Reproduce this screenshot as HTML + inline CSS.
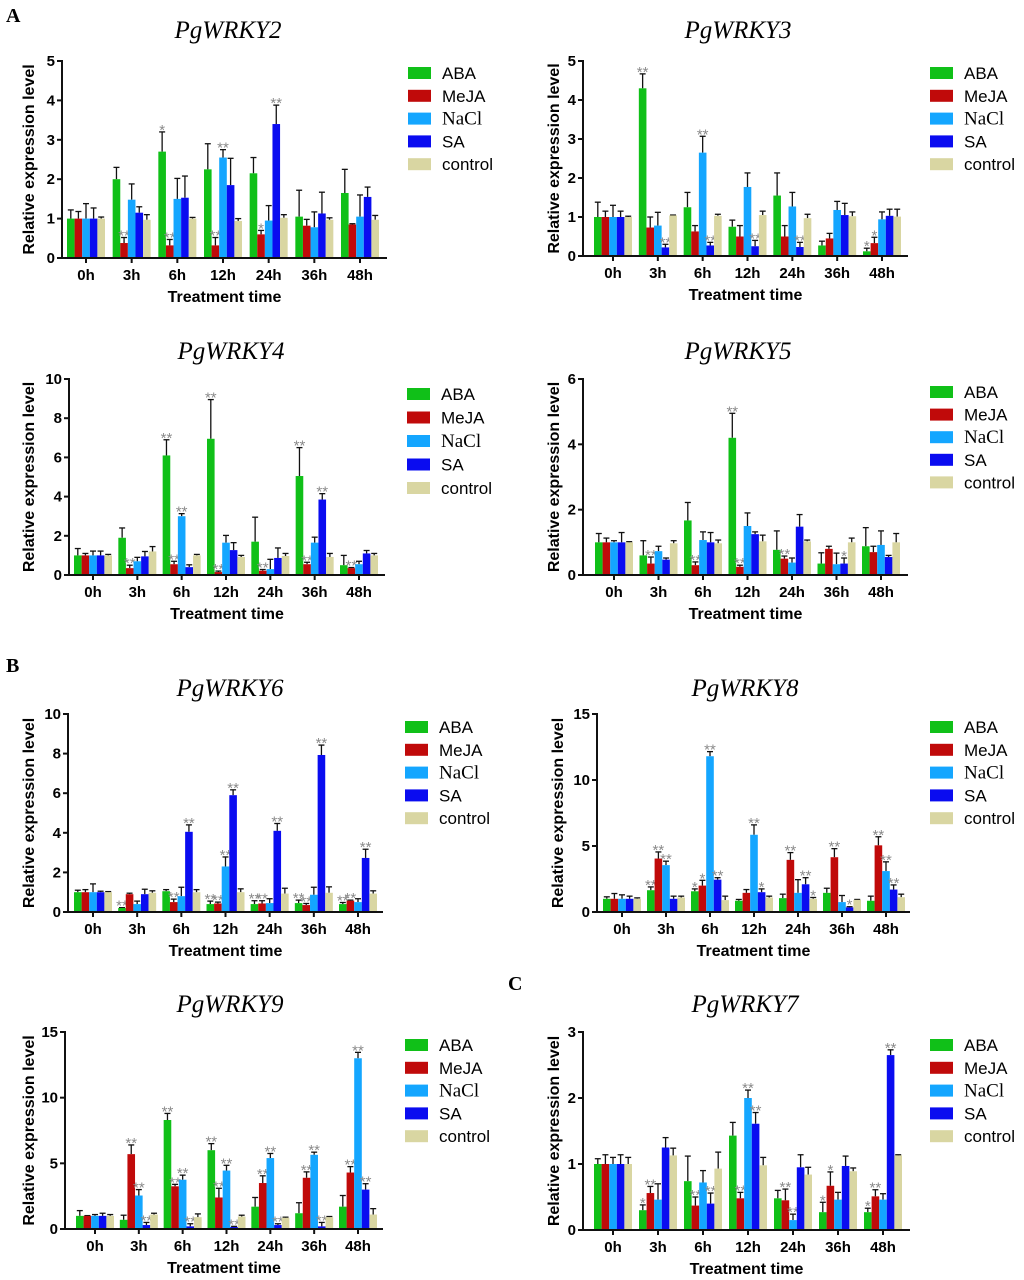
<!DOCTYPE html>
<html><head><meta charset="utf-8">
<style>
body{margin:0;background:#fff;}
svg{display:block;}
</style></head>
<body>
<svg id="fig" width="1024" height="1280" viewBox="0 0 1024 1280" xmlns="http://www.w3.org/2000/svg" style="font-family:'Liberation Sans',Arial,sans-serif">
<rect width="1024" height="1280" fill="#fff"/>
<text x="6" y="22" style="font-family:'Liberation Serif',serif" font-weight="bold" font-size="20">A</text>
<text x="6" y="672" style="font-family:'Liberation Serif',serif" font-weight="bold" font-size="20">B</text>
<text x="508" y="990" style="font-family:'Liberation Serif',serif" font-weight="bold" font-size="20">C</text>
</svg>
<script>
const categories = ["0h","3h","6h","12h","24h","36h","48h"];
const seriesNames = ["ABA","MeJA","NaCl","SA","control"];
const seriesColors = ["#10c018","#c00a0a","#14a6ff","#0a0cf0","#d9d6a2"];

const w2Ticks = [0,1,2,3,4,5];
const w2Values = [[1.0,2.0,2.7,2.25,2.15,1.05,1.65],[1.0,0.38,0.32,0.32,0.6,0.82,0.85],[1.0,1.48,1.5,2.55,0.95,0.78,1.05],[1.0,1.15,1.53,1.85,3.4,1.13,1.55],[1.0,0.97,1.0,0.94,1.02,0.97,0.97]];
const w2Tops = [[1.22,2.3,3.2,2.9,2.55,1.72,2.25],[1.18,0.52,0.47,0.52,0.7,0.98,0.87],[1.38,1.88,2.02,2.75,1.33,1.17,1.6],[1.27,1.3,2.08,2.53,3.88,1.67,1.8],[1.04,1.1,1.03,1.0,1.1,1.02,1.08]];
const w2Sig = [["","","*","","","",""],["","**","**","**","*","",""],["","","","**","","",""],["","","","","**","",""],["","","","","","",""]];

const w3Ticks = [0,1,2,3,4,5];
const w3Values = [[1.0,4.3,1.25,0.75,1.55,0.27,0.12],[1.0,0.73,0.63,0.5,0.5,0.45,0.33],[1.0,0.78,2.65,1.77,1.27,1.18,0.94],[1.0,0.22,0.27,0.25,0.23,1.05,1.03],[1.0,1.04,1.03,1.05,0.97,1.02,1.01]];
const w3Tops = [[1.38,4.67,1.63,0.92,2.13,0.38,0.2],[1.15,1.0,0.78,0.78,0.78,0.58,0.48],[1.3,1.12,3.07,2.13,1.63,1.4,1.13],[1.15,0.3,0.35,0.4,0.35,1.35,1.2],[1.02,1.05,1.07,1.15,1.07,1.13,1.2]];
const w3Sig = [["","**","","","","","*"],["","","","","","","*"],["","","**","","","",""],["","**","**","**","**","",""],["","","","","","",""]];

const w4Ticks = [0,2,4,6,8,10];
const w4Values = [[1.0,1.9,6.1,6.95,1.7,5.05,0.5],[1.0,0.35,0.55,0.15,0.22,0.55,0.35],[1.0,0.7,3.0,1.65,0.3,1.65,0.55],[1.0,0.95,0.4,1.27,0.87,3.85,1.1],[1.0,1.2,1.0,0.92,0.97,0.92,1.0]];
const w4Tops = [[1.35,2.4,6.9,8.95,2.95,6.5,1.0],[1.1,0.5,0.7,0.2,0.28,0.65,0.38],[1.22,0.9,3.13,2.02,0.8,1.93,0.7],[1.22,1.2,0.52,1.65,1.38,4.15,1.25],[1.05,1.45,1.05,1.0,1.1,1.1,1.1]];
const w4Sig = [["","","**","**","","**",""],["","**","**","**","**","**","**"],["","","**","","","",""],["","","","","","**",""],["","","","","","",""]];

const w5Ticks = [0,2,4,6];
const w5Values = [[1.0,0.6,1.67,4.2,0.77,0.35,0.88],[1.0,0.35,0.3,0.25,0.5,0.8,0.7],[1.0,0.73,1.07,1.5,0.38,0.33,0.92],[1.0,0.47,1.0,1.25,1.48,0.35,0.55],[1.0,0.97,0.97,1.03,1.03,1.0,1.0]];
const w5Tops = [[1.27,1.05,2.22,4.95,1.35,0.68,1.45],[1.13,0.55,0.4,0.3,0.58,0.88,0.88],[1.05,0.88,1.32,1.9,0.52,0.67,1.35],[1.3,0.52,1.3,1.32,1.85,0.52,0.6],[1.02,1.05,1.07,1.22,1.07,1.13,1.27]];
const w5Sig = [["","","","**","","",""],["","**","**","**","**","",""],["","","","","","",""],["","","","","","*",""],["","","","","","",""]];

const w6Ticks = [0,2,4,6,8,10];
const w6Values = [[1.0,0.2,1.05,0.4,0.4,0.45,0.4],[1.0,0.9,0.5,0.43,0.43,0.35,0.57],[1.0,0.4,0.8,2.3,0.45,0.87,0.5],[1.0,0.9,4.05,5.9,4.1,7.93,2.73],[1.0,0.97,1.0,1.0,0.93,0.97,0.93]];
const w6Tops = [[1.1,0.22,1.13,0.55,0.57,0.6,0.48],[1.13,0.95,0.65,0.5,0.57,0.43,0.6],[1.42,0.55,1.25,2.78,0.67,1.25,0.67],[1.05,1.15,4.4,6.17,4.47,8.43,3.17],[1.03,1.07,1.13,1.17,1.2,1.27,1.07]];
const w6Sig = [["","**","","**","**","**","**"],["","","**","**","**","**","**"],["","","","**","","",""],["","","**","**","**","**","**"],["","","","","","",""]];

const w8Ticks = [0,5,10,15];
const w8Values = [[1.0,1.65,1.57,0.85,1.05,1.45,0.85],[1.0,4.05,2.0,1.45,3.95,4.15,5.05],[1.0,3.55,11.8,5.85,1.45,0.75,3.1],[1.0,1.0,2.45,1.5,2.1,0.35,1.7],[1.0,1.1,0.9,1.1,1.0,0.92,1.12]];
const w8Tops = [[1.15,1.9,1.75,0.95,1.35,1.8,1.2],[1.4,4.55,2.4,1.7,4.5,4.8,5.7],[1.3,3.85,12.15,6.6,2.45,1.25,3.8],[1.2,1.2,2.6,1.75,2.6,0.4,2.05],[1.07,1.2,1.2,1.2,1.1,0.95,1.35]];
const w8Sig = [["","**","*","","","",""],["","**","*","","**","**","**"],["","**","**","**","","","**"],["","","**","*","**","*","**"],["","","","","*","",""]];

const w9Ticks = [0,5,10,15];
const w9Values = [[1.0,0.7,8.3,6.0,1.7,1.2,1.7],[1.0,5.7,3.25,2.4,3.5,3.9,4.3],[1.0,2.55,3.75,4.45,5.4,5.65,13.0],[1.0,0.3,0.2,0.15,0.3,0.2,3.0],[1.0,1.1,0.9,0.95,0.85,0.9,1.1]];
const w9Tops = [[1.4,1.05,8.8,6.5,2.4,2.0,2.55],[1.02,6.4,3.4,3.1,4.05,4.35,4.75],[1.1,3.0,4.1,4.85,5.75,5.85,13.45],[1.2,0.5,0.4,0.2,0.4,0.5,3.45],[1.1,1.2,1.15,1.05,0.9,0.95,1.55]];
const w9Sig = [["","","**","**","","",""],["","**","**","**","**","**","**"],["","**","**","**","**","**","**"],["","**","**","**","**","**","**"],["","","","","","",""]];

const w7Ticks = [0,1,2,3];
const w7Values = [[1.0,0.3,0.74,1.43,0.48,0.27,0.27],[1.0,0.56,0.37,0.48,0.45,0.67,0.51],[1.0,0.46,0.72,2.0,0.15,0.46,0.46],[1.0,1.25,0.4,1.61,0.95,0.97,2.65],[1.0,1.13,0.93,0.98,0.84,0.89,1.13]];
const w7Tops = [[1.08,0.38,1.12,1.63,0.6,0.42,0.33],[1.14,0.66,0.5,0.57,0.62,0.88,0.61],[1.1,0.7,0.9,2.12,0.24,0.57,0.55],[1.14,1.4,0.56,1.78,1.14,1.12,2.73],[1.1,1.24,1.18,1.1,0.95,0.94,1.14]];
const w7Sig = [["","*","","","","*","*"],["","**","**","**","**","*","**"],["","","","**","**","",""],["","","**","**","","","**"],["","","","","","",""]];

const NS="http://www.w3.org/2000/svg";
const svg=document.getElementById('fig');
function el(tag,attrs,parent,txt){const e=document.createElementNS(NS,tag);for(const k in attrs)e.setAttribute(k,attrs[k]);if(txt!==undefined)e.textContent=txt;(parent||svg).appendChild(e);return e;}
const SERIF="font-family:'Liberation Serif',serif";
const SANS="font-family:'Liberation Sans',Arial,sans-serif";

function drawPanel(p,values,tops,sigs,ticks){
  const g=el('g',{});
  
  
  const max=ticks[ticks.length-1];
  const yS=v=>p.y0-(p.y0-p.yTop)*v/max;
  const step=(p.cLast-p.c0)/(categories.length-1);
  const xS=i=>p.c0+i*step;
  const bw=7.6;
  const t=el('text',{x:p.tx,y:p.ty,'text-anchor':'middle',style:SERIF+';font-style:italic','font-size':'25'},g,p.title);
  
  
  for(let s=0;s<seriesNames.length;s++){
    for(let i=0;i<categories.length;i++){
      const x=xS(i)-2.5*bw+s*bw;
      const v=values[s][i], top=tops[s][i];
      const cx=x+bw/2;
      const eb=el('line',{x1:cx,x2:cx,y1:yS(v),y2:yS(top),stroke:'#111','stroke-width':1.3},g);
      
      
      const cap=el('line',{x1:cx-3,x2:cx+3,y1:yS(top),y2:yS(top),stroke:'#111','stroke-width':1.3},g);
      
      
      const r=el('rect',{x:x,y:yS(v),width:bw,height:p.y0-yS(v),fill:seriesColors[s]},g);
      
      
      if(sigs[s][i]){
        const st=el('text',{x:cx,y:yS(Math.max(top,v))+3,'text-anchor':'middle','font-size':'15',fill:'#8a8a8a'},g,sigs[s][i]);
        
        
      }
    }
  }
  const ya=el('line',{x1:p.ax,x2:p.ax,y1:p.yTop-1,y2:p.y0+1,stroke:'#111','stroke-width':2},g);
  
  
  const xa=el('line',{x1:p.ax-1,x2:p.xEnd,y1:p.y0,y2:p.y0,stroke:'#111','stroke-width':2},g);
  
  
  ticks.forEach(tv=>{
    const y=yS(tv);
    el('line',{x1:p.ax-5,x2:p.ax,y1:y,y2:y,stroke:'#111','stroke-width':2},g);
    const tl=el('text',{x:p.ax-7,y:y+5,'text-anchor':'end','font-weight':'bold','font-size':'15'},g,String(tv));
    
    
  });
  categories.forEach((c,i)=>{
    const x=xS(i);
    el('line',{x1:x,x2:x,y1:p.y0,y2:p.y0+5,stroke:'#111','stroke-width':2},g);
    const tl=el('text',{x:x,y:p.y0+22,'text-anchor':'middle','font-weight':'bold','font-size':'15'},g,c);
    
    
  });
  const xt=el('text',{x:(p.ax+p.xEnd)/2,y:p.y0+44,'text-anchor':'middle','font-weight':'bold','font-size':'16'},g,'Treatment time');
  
  
  const ym=(p.y0+p.yTop)/2;
  const yt=el('text',{x:p.yx,y:ym,'text-anchor':'middle','font-weight':'bold','font-size':'16',transform:'rotate(-90 '+p.yx+' '+ym+')'},g,'Relative expression level');
  
  
  seriesNames.forEach((n,s)=>{
    const y=p.ly+s*p.lstep;
    const lg=el('g',{},g);
    
    
    el('rect',{x:p.lx,y:y-6,width:23,height:12,fill:seriesColors[s]},lg);
    const serif=n==='NaCl';
    el('text',{x:p.lx+34,y:y+6,'font-size':serif?'19':'17',style:serif?SERIF:SANS},lg,n);
  });
}

drawPanel({id:'pgwrky2',title:'PgWRKY2',tx:228,ty:38,ax:62,y0:258,yTop:61,xEnd:387,c0:86,cLast:360,yx:34,lx:408,ly:73,lstep:22.8},w2Values,w2Tops,w2Sig,w2Ticks);
drawPanel({id:'pgwrky3',title:'PgWRKY3',tx:738,ty:38,ax:583,y0:256,yTop:61,xEnd:908,c0:613,cLast:882,yx:559,lx:930,ly:73,lstep:22.8},w3Values,w3Tops,w3Sig,w3Ticks);
drawPanel({id:'pgwrky4',title:'PgWRKY4',tx:231,ty:359,ax:69,y0:575,yTop:379,xEnd:385,c0:93,cLast:359,yx:34,lx:407,ly:394,lstep:23.5},w4Values,w4Tops,w4Sig,w4Ticks);
drawPanel({id:'pgwrky5',title:'PgWRKY5',tx:738,ty:359,ax:583,y0:575,yTop:379,xEnd:908,c0:614,cLast:881,yx:559,lx:930,ly:392,lstep:22.6},w5Values,w5Tops,w5Sig,w5Ticks);
drawPanel({id:'pgwrky6',title:'PgWRKY6',tx:230,ty:696,ax:68,y0:912,yTop:714,xEnd:383,c0:93,cLast:358,yx:34,lx:405,ly:727,lstep:22.8},w6Values,w6Tops,w6Sig,w6Ticks);
drawPanel({id:'pgwrky8',title:'PgWRKY8',tx:745,ty:696,ax:597,y0:912,yTop:714,xEnd:910,c0:622,cLast:886,yx:563,lx:930,ly:727,lstep:22.8},w8Values,w8Tops,w8Sig,w8Ticks);
drawPanel({id:'pgwrky9',title:'PgWRKY9',tx:230,ty:1012,ax:65,y0:1229,yTop:1032,xEnd:383,c0:95,cLast:358,yx:34,lx:405,ly:1045,lstep:22.8},w9Values,w9Tops,w9Sig,w9Ticks);
drawPanel({id:'pgwrky7',title:'PgWRKY7',tx:745,ty:1012,ax:583,y0:1230,yTop:1032,xEnd:910,c0:613,cLast:883,yx:559,lx:930,ly:1045,lstep:22.8},w7Values,w7Tops,w7Sig,w7Ticks);
</script>
</body></html>
